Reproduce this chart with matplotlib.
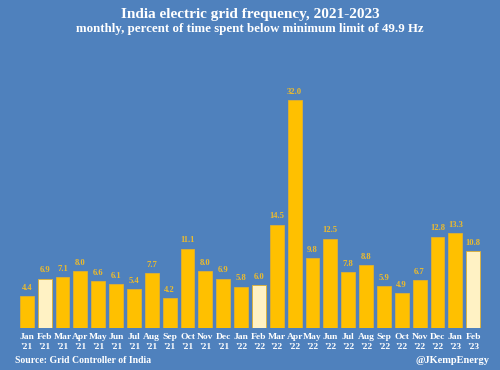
import matplotlib.pyplot as plt

# monthly share of time below 49.9 Hz (%)
months = ["Jan\n'21", "Feb\n'21", "Mar\n'21", "Apr\n'21", "May\n'21", "Jun\n'21", "Jul\n'21",
          "Aug\n'21", "Sep\n'21", "Oct\n'21", "Nov\n'21", "Dec\n'21", "Jan\n'22", "Feb\n'22",
          "Mar\n'22", "Apr\n'22", "May\n'22", "Jun\n'22", "Jul\n'22", "Aug\n'22", "Sep\n'22",
          "Oct\n'22", "Nov\n'22", "Dec\n'22", "Jan\n'23", "Feb\n'23"]
values = [4.4, 6.9, 7.1, 8.0, 6.6, 6.1, 5.4, 7.7, 4.2, 11.1, 8.0, 6.9, 5.8, 6.0,
          14.5, 32.0, 9.8, 12.5, 7.8, 8.8, 5.9, 4.9, 6.7, 12.8, 13.3, 10.8]

bg = '#4F81BD'
plt.rcParams['font.family'] = ['Liberation Serif', 'DejaVu Serif']

fig = plt.figure(figsize=(5, 3.7), dpi=100, facecolor=bg)
ax = fig.add_axes([0.034, 0.114, 0.932, 0.697], facecolor=bg)

colors = ['#FFF2C4' if m.startswith('Feb') else '#FFC000' for m in months]
x = range(len(values))
bars = ax.bar(x, values, width=0.78, color=colors, edgecolor='#E0B030', linewidth=0.6)

for xi, v in zip(x, values):
    ax.text(xi, v + 0.6, f'{v:.1f}', ha='center', va='bottom', fontsize=6.2,
            fontweight='bold', color='#EDBB2C')

ax.set_xlim(-0.55, len(values) - 0.45)
ax.set_ylim(0, 36.2)
ax.set_xticks(list(x))
ax.set_xticklabels(months, fontsize=6.8, fontweight='bold', color='white', linespacing=1.2)
ax.tick_params(axis='x', length=0, pad=4)
ax.set_yticks([])
for s in ax.spines.values():
    s.set_visible(False)

fig.text(0.5, 0.962, 'India electric grid frequency, 2021-2023', ha='center', va='center',
         fontsize=11, fontweight='bold', color='white')
fig.text(0.5, 0.922, 'monthly, percent of time spent below minimum limit of 49.9 Hz', ha='center',
         va='center', fontsize=9.3, fontweight='bold', color='white')
fig.text(0.03, 0.027, 'Source: Grid Controller of India', ha='left', va='center',
         fontsize=7, fontweight='bold', color='white')
fig.text(0.978, 0.025, '@JKempEnergy', ha='right', va='center',
         fontsize=7.5, fontweight='bold', color='white')

fig.savefig('out.png', dpi=100, facecolor=bg)
